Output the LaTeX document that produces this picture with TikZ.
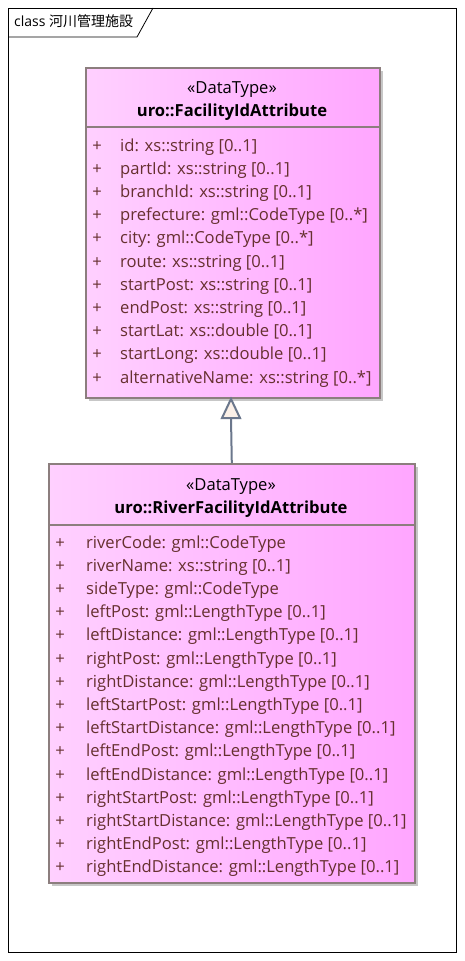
\documentclass[tikz,border=0pt]{standalone}
\usepackage{fontspec}
\setmainfont{Open Sans}
\newfontfamily\cjk{Noto Sans CJK JP}
\definecolor{umlborder}{HTML}{8C7E7E}
\definecolor{attrtext}{HTML}{66302F}
\definecolor{fillL}{HTML}{FFD0FF}
\definecolor{fillR}{HTML}{FFA6FF}
\definecolor{genline}{HTML}{6B778C}
\definecolor{tricol}{HTML}{FBF0E8}
\tikzset{
  umlbox/.style={draw=umlborder, line width=1.6pt, left color=fillL, right color=fillR, anchor=north west, inner sep=0pt},
  shadowbox/.style={fill=black!22, draw=none},
  stereo/.style={font=\fontsize{16.6}{18}\selectfont, anchor=base, inner sep=0pt},
  cname/.style={font=\fontsize{16.6}{18}\selectfont\bfseries, anchor=base, inner sep=0pt},
  attr/.style={font=\fontsize{16.6}{18}\selectfont, text=attrtext, anchor=base west, inner sep=0pt},
  plus/.style={font=\fontsize{16.6}{18}\selectfont, text=attrtext, anchor=base, inner sep=0pt},
  sep/.style={draw=umlborder, line width=1.6pt},
  gen/.style={draw=genline, line width=2pt},
}
\begin{document}
\begin{tikzpicture}[x=1pt,y=1pt]
\useasboundingbox (0,0) rectangle (464,-961);
\fill[white] (0,0) rectangle (464,-961);
% frame
\draw[black, line width=0.8pt] (8,-8) rectangle (456,-952);
\coordinate (tabA) at (8,-37);
\coordinate (tabB) at (137,-37);
\coordinate (tabC) at (153,-8);
\draw[black, line width=0.8pt] (tabA) -- (tabB) -- (tabC);
\node[anchor=base west, inner sep=0pt, font=\fontsize{14}{16}\selectfont] (title) at (14,-27) {class {\cjk 河川管理施設}};
% box 1
\fill[shadowbox] (89,-71) rectangle (383,-401);
\node[umlbox, minimum width=294pt, minimum height=330pt] (b1) at (85,-67) {};
\draw[sep] (85,-127) -- (379,-127);
\node[stereo] (b1s) at (232,-93) {«DataType»};
\node[cname] (b1n) at (232,-116) {uro::FacilityIdAttribute};
\foreach \t [count=\i] in {id: xs::string [0..1],partId: xs::string [0..1],branchId: xs::string [0..1],prefecture: gml::CodeType [0..*],city: gml::CodeType [0..*],route: xs::string [0..1],startPost: xs::string [0..1],endPost: xs::string [0..1],startLat: xs::double [0..1],startLong: xs::double [0..1],alternativeName: xs::string [0..*]} {
  \node[plus] (b1p\i) at (97,{-151-23.2*(\i-1)}) {+};
  \node[attr] (b1a\i) at (120,{-151-23.2*(\i-1)}) {\t};
}
% box 2
\fill[shadowbox] (52,-467) rectangle (418,-886);
\node[umlbox, minimum width=366pt, minimum height=419pt] (b2) at (48,-463) {};
\draw[sep] (48,-525) -- (414,-525);
\node[stereo] (b2s) at (231,-490) {«DataType»};
\node[cname] (b2n) at (231,-513) {uro::RiverFacilityIdAttribute};
\foreach \t [count=\i] in {riverCode: gml::CodeType,riverName: xs::string [0..1],sideType: gml::CodeType,leftPost: gml::LengthType [0..1],leftDistance: gml::LengthType [0..1],rightPost: gml::LengthType [0..1],rightDistance: gml::LengthType [0..1],leftStartPost: gml::LengthType [0..1],leftStartDistance: gml::LengthType [0..1],leftEndPost: gml::LengthType [0..1],leftEndDistance: gml::LengthType [0..1],rightStartPost: gml::LengthType [0..1],rightStartDistance: gml::LengthType [0..1],rightEndPost: gml::LengthType [0..1],rightEndDistance: gml::LengthType [0..1]} {
  \node[plus] (b2p\i) at (60,{-548-23.2*(\i-1)}) {+};
  \node[attr] (b2a\i) at (86,{-548-23.2*(\i-1)}) {\t};
}
% generalization
\coordinate (tri1) at (222,-418);
\coordinate (tri2) at (240,-418);
\draw[gen] (b2.north) -- (231,-418);
\draw[gen, fill=tricol, line join=miter] (231,-399) -- (tri1) -- (tri2) -- cycle;
\end{tikzpicture}
\end{document}
